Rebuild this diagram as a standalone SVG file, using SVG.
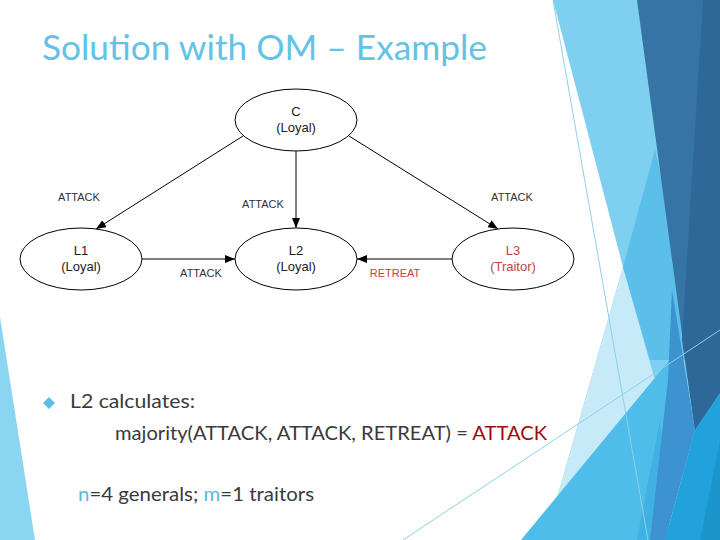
<svg xmlns="http://www.w3.org/2000/svg" width="720" height="540" viewBox="0 0 720 540">
<style>
.nodeShape{fill:#ffffff;stroke:#000;stroke-width:1}
.nl{font-family:"Liberation Sans",Arial,sans-serif;font-size:13px;fill:#222;text-anchor:middle}
.nlr{fill:#c8403f}
.el{font-family:"Liberation Sans",Arial,sans-serif;font-size:11px;fill:#333;text-anchor:middle}
.elr{fill:#c8403f}
.conn{stroke:#000;stroke-width:1;fill:none;marker-end:url(#arr)}
.body{font-family:"Lato","Open Sans",sans-serif;font-size:19px;fill:#3a3a3a}
</style>
<defs>
<marker id="arr" markerWidth="11" markerHeight="8" refX="10" refY="4" orient="auto" markerUnits="userSpaceOnUse">
<path d="M0,0 L10,4 L0,8 z" fill="#000"/>
</marker>
</defs>
<rect width="720" height="540" fill="#ffffff"/>
<g id="background">
<polygon points="0,317 35,540 0,540" fill="#8ad6f2"/>
<polygon points="553,0 720,0 720,540 545,540 623,267" fill="#7ecff0"/>
<polygon points="623,267 545,540 700,540" fill="#c6eaf8"/>
<polygon points="655,150 623,267 650,360 690,360 662,180" fill="#5bbfea"/>
<polygon points="521,540 682,345 668,540" fill="#4fbde9"/>
<polygon points="637,540 660,420 668,540" fill="#3fb2e3"/>
<polygon points="637,0 720,0 720,393 695,430" fill="#3574a5"/>
<polygon points="703,0 720,0 720,393 695,430 682,340" fill="#2d6898"/>
<polygon points="672,290 695,430 665,540 650,540 668,380" fill="#3d92d0"/>
<polygon points="720,393 695,430 665,540 720,540" fill="#22a2dc"/>
<polygon points="720,440 700,540 720,540" fill="#1c95cc"/>
<line x1="553" y1="0" x2="648" y2="540" stroke="#8fcfe6" stroke-width="1"/>
<line x1="403" y1="540" x2="720" y2="330" stroke="#8fcfe6" stroke-width="1"/>
</g>
<text x="42" y="60" font-family="Lato,'Open Sans',sans-serif" font-size="34" fill="#62c3e6" textLength="445" lengthAdjust="spacingAndGlyphs">Solution with OM – Example</text>
<g id="connectors">
<line class="conn" x1="243" y1="136" x2="96" y2="229"/>
<line class="conn" x1="296" y1="151" x2="296" y2="228"/>
<line class="conn" x1="349" y1="136" x2="498" y2="229"/>
<line class="conn" x1="142" y1="259" x2="235" y2="259"/>
<line class="conn" x1="452" y1="259" x2="357" y2="259"/>
<text class="el" x="79" y="201">ATTACK</text>
<text class="el" x="263" y="208">ATTACK</text>
<text class="el" x="512" y="201">ATTACK</text>
<text class="el" x="201" y="277">ATTACK</text>
<text class="el elr" x="395" y="277">RETREAT</text>
</g>
<g id="node-C">
<ellipse class="nodeShape" cx="296" cy="120" rx="61" ry="31"/>
<text class="nl" x="296" y="116">C</text>
<text class="nl" x="296" y="132">(Loyal)</text>
</g>
<g id="node-L1">
<ellipse class="nodeShape" cx="81" cy="259" rx="61" ry="31"/>
<text class="nl" x="81" y="255">L1</text>
<text class="nl" x="81" y="271">(Loyal)</text>
</g>
<g id="node-L2">
<ellipse class="nodeShape" cx="296" cy="259" rx="61" ry="31"/>
<text class="nl" x="296" y="255">L2</text>
<text class="nl" x="296" y="271">(Loyal)</text>
</g>
<g id="node-L3">
<ellipse class="nodeShape" cx="513" cy="259" rx="61" ry="31"/>
<text class="nl nlr" x="513" y="255">L3</text>
<text class="nl nlr" x="513" y="271">(Traitor)</text>
</g>
<g id="body-text">
<polygon points="49,397 55,403 49,409 43,403" fill="#5bbfe8"/>
<text class="body" x="70" y="408" textLength="125" lengthAdjust="spacingAndGlyphs">L2 calculates:</text>
<text class="body" x="115" y="440" textLength="432" lengthAdjust="spacingAndGlyphs">majority(ATTACK, ATTACK, RETREAT) = <tspan fill="#a00a0a">ATTACK</tspan></text>
<text class="body" x="78" y="501" textLength="236" lengthAdjust="spacingAndGlyphs"><tspan fill="#5cb9d8">n</tspan>=4 generals; <tspan fill="#5cb9d8">m</tspan>=1 traitors</text>
</g>
</svg>
